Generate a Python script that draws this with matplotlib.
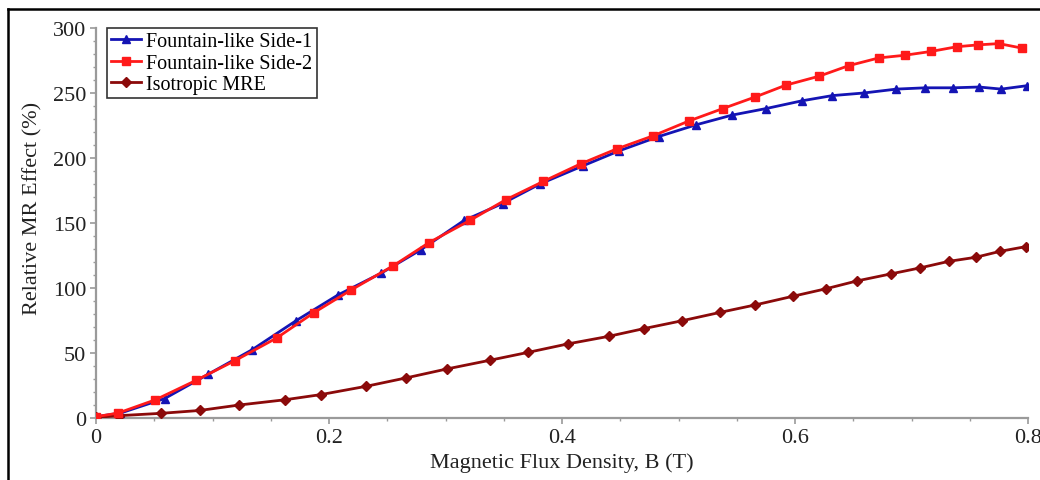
import matplotlib
matplotlib.use("Agg")
import matplotlib.pyplot as plt
import matplotlib.ticker as mticker
from matplotlib.lines import Line2D

plt.rcParams.update({
    "font.family": ["Liberation Serif", "DejaVu Serif"],
    "font.size": 13,
})

# ── Data ─────────────────────────────────────────────────────────────────────
b_side1 = [0, 0.021, 0.059, 0.096, 0.134, 0.172, 0.208, 0.245, 0.279, 0.316,
           0.349, 0.381, 0.418, 0.449, 0.483, 0.515, 0.546, 0.575, 0.606, 0.632,
           0.659, 0.687, 0.712, 0.736, 0.758, 0.777, 0.799]
mr_side1 = [1, 3.8, 15, 33.5, 52.5, 75, 94.8, 111.5, 129.5, 152,
            165, 180, 194, 205.5, 216.5, 225.5, 233, 238, 244, 248,
            250, 253, 254, 254, 254.6, 253, 255.6]

b_side2 = [0, 0.019, 0.051, 0.086, 0.119, 0.155, 0.187, 0.219, 0.255, 0.286,
           0.321, 0.352, 0.384, 0.416, 0.447, 0.478, 0.509, 0.538, 0.566, 0.592,
           0.621, 0.646, 0.672, 0.694, 0.717, 0.739, 0.757, 0.775, 0.795]
mr_side2 = [1, 3.8, 14, 29, 44, 61.5, 81, 98.5, 117, 135,
            152, 168, 182, 195.5, 207, 217, 228.5, 238, 247, 256,
            263, 271, 277, 279, 282, 285.6, 287, 288, 284.5]

b_iso = [0, 0.02, 0.056, 0.089, 0.123, 0.162, 0.193, 0.232, 0.266, 0.301,
         0.338, 0.371, 0.405, 0.44, 0.47, 0.503, 0.536, 0.566, 0.598, 0.627,
         0.653, 0.682, 0.707, 0.732, 0.755, 0.776, 0.798]
mr_iso = [0.5, 1.8, 3.6, 5.8, 10, 14, 18, 24.4, 30.8, 37.7,
          44.4, 50.5, 57, 62.8, 68.7, 74.8, 81.3, 87, 93.6, 99.5,
          105.4, 110.8, 115.4, 120.5, 123.6, 128.2, 131.8]

# ── Figure ───────────────────────────────────────────────────────────────────
fig = plt.figure(figsize=(10.4, 4.81), dpi=100)
ax = fig.add_axes([96 / 1040, 62 / 481, 932 / 1040, 390 / 481])

ax.plot(b_side1, mr_side1, color="#1414B4", marker="^", markersize=5.5,
        linewidth=2, label="Fountain-like Side-1", zorder=3)
ax.plot(b_side2, mr_side2, color="#FF1A1A", marker="s", markersize=5.5,
        linewidth=2, label="Fountain-like Side-2", zorder=4)
ax.plot(b_iso, mr_iso, color="#8B0A0A", marker="D", markersize=5,
        linewidth=2, label="Isotropic MRE", zorder=3)

ax.set_xlim(0, 0.8)
ax.set_ylim(0, 300)
ax.xaxis.set_major_locator(mticker.MultipleLocator(0.2))
ax.xaxis.set_minor_locator(mticker.MultipleLocator(0.05))
ax.yaxis.set_major_locator(mticker.MultipleLocator(50))
ax.yaxis.set_minor_locator(mticker.MultipleLocator(10))
ax.xaxis.set_major_formatter(mticker.FuncFormatter(lambda v, _: f"{v:g}"))

for side in ("top", "right"):
    ax.spines[side].set_visible(False)
for side in ("left", "bottom"):
    ax.spines[side].set_color("#9a9a9a")
    ax.spines[side].set_linewidth(1.6)
ax.tick_params(which="major", length=4, width=1.2, color="#9a9a9a",
               labelsize=16, labelcolor="#222222", pad=3)
ax.tick_params(which="minor", length=2.5, width=1, color="#9a9a9a")

ax.set_xlabel("Magnetic Flux Density, B (T)", fontsize=16, labelpad=4,
              color="#222222")
ax.set_ylabel("Relative MR Effect (%)", fontsize=16, color="#222222")
ax.yaxis.set_label_coords(-0.057, 0.54)

leg = ax.legend(loc="upper left", bbox_to_anchor=(0.012, 1.0), fontsize=14.5,
                frameon=True, fancybox=False, borderpad=0.2, labelspacing=0.12,
                handlelength=1.5, handletextpad=0.25, borderaxespad=0.0)
leg.get_frame().set_edgecolor("black")
leg.get_frame().set_linewidth(1.2)

# outer frame of the figure (cut at right/bottom as in the reference)
fig.add_artist(Line2D([8 / 1040, 8 / 1040], [0, 1 - 10 / 481], color="black",
                      linewidth=1.8, transform=fig.transFigure))
fig.add_artist(Line2D([8 / 1040, 1], [1 - 10 / 481, 1 - 10 / 481],
                      color="black", linewidth=1.8, transform=fig.transFigure))

fig.savefig("out.png", dpi=100)
